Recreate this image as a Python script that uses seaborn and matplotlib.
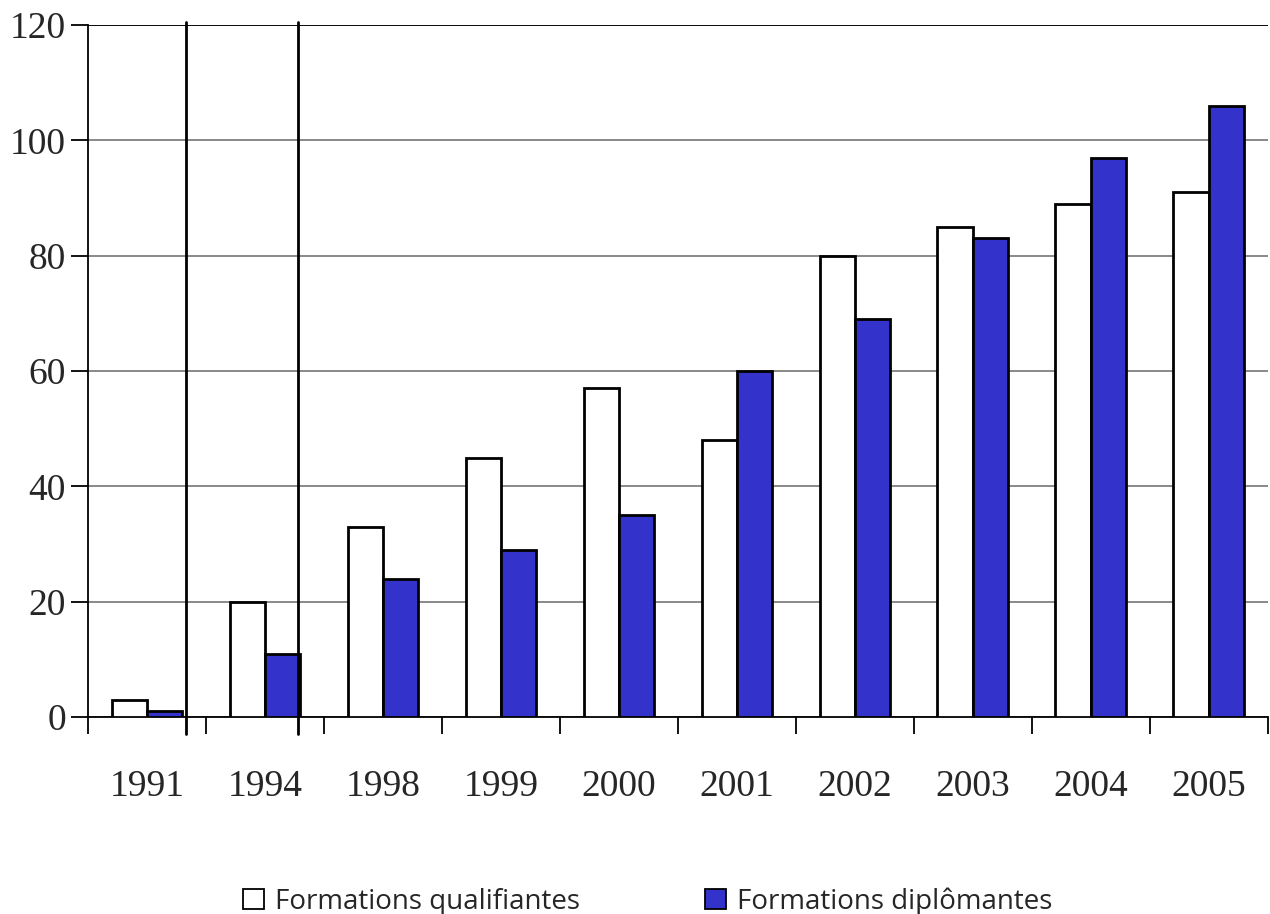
import matplotlib
matplotlib.use("Agg")
import matplotlib.pyplot as plt
import seaborn as sns
import pandas as pd
from matplotlib.patches import Patch

# values
years = ["1991", "1994", "1998", "1999", "2000", "2001", "2002", "2003", "2004", "2005"]
qualifiantes = [3, 20, 33, 45, 57, 48, 80, 85, 89, 91]
diplomantes = [1, 11, 24, 29, 35, 60, 69, 83, 97, 106]
series_names = ["Formations qualifiantes", "Formations diplômantes"]

df = pd.DataFrame({
    "annee": years * 2,
    "valeur": qualifiantes + diplomantes,
    "serie": [series_names[0]] * len(years) + [series_names[1]] * len(years),
})

sns.set_style("white")
plt.rcParams["font.family"] = ["Liberation Serif", "DejaVu Serif"]

fig = plt.figure(figsize=(12.7, 9.14), dpi=100)
ax = fig.add_axes([0.0693, 0.2155, 0.929, 0.7571])

palette = {series_names[0]: "white", series_names[1]: "#3333CC"}
sns.barplot(data=df, x="annee", y="valeur", hue="serie", palette=palette,
            width=0.6, edgecolor="black", linewidth=2, saturation=1,
            legend=False, ax=ax, zorder=3)

ax.set_ylim(0, 120)
ax.set_xlim(-0.5, len(years) - 0.5)
ax.set_yticks(range(0, 121, 20))
ax.yaxis.grid(True, color="#808080", linewidth=1.3, zorder=0)
ax.axhline(120, color="black", linewidth=1.3, zorder=1)

for s in ["top", "right"]:
    ax.spines[s].set_visible(False)
for s in ["left", "bottom"]:
    ax.spines[s].set_color("black")
    ax.spines[s].set_linewidth(1.3)

# category labels at centres, small ticks at boundaries
ax.set_xticks(range(len(years)))
ax.set_xticklabels(years)
ax.set_xticks([i - 0.5 for i in range(len(years) + 1)], minor=True)
ax.tick_params(axis="x", which="major", length=0, pad=38, labelsize=27, bottom=True)
ax.tick_params(axis="x", which="minor", length=12, width=1.3, color="black",
               direction="out", bottom=True)
ax.tick_params(axis="y", which="major", length=12, width=1.3, color="black",
               direction="out", labelsize=27, pad=4, left=True)
ax.set_xlabel("")
ax.set_ylabel("")

# separator lines between the periods
for xs in [0.33, 1.28]:
    ax.plot([xs, xs], [-3, 120.5], color="black", linewidth=2, clip_on=False, zorder=4)

handles = [Patch(facecolor=palette[n], edgecolor="black", linewidth=1.3, label=n)
           for n in series_names]
fig.legend(handles=handles, loc="lower center", bbox_to_anchor=(0.51, -0.029), ncol=2,
           frameon=False, prop={"family": ["Open Sans", "DejaVu Sans"], "size": 20},
           handlelength=0.75, handleheight=0.75, handletextpad=0.4, columnspacing=4.5)

fig.savefig("out.png", dpi=100)
